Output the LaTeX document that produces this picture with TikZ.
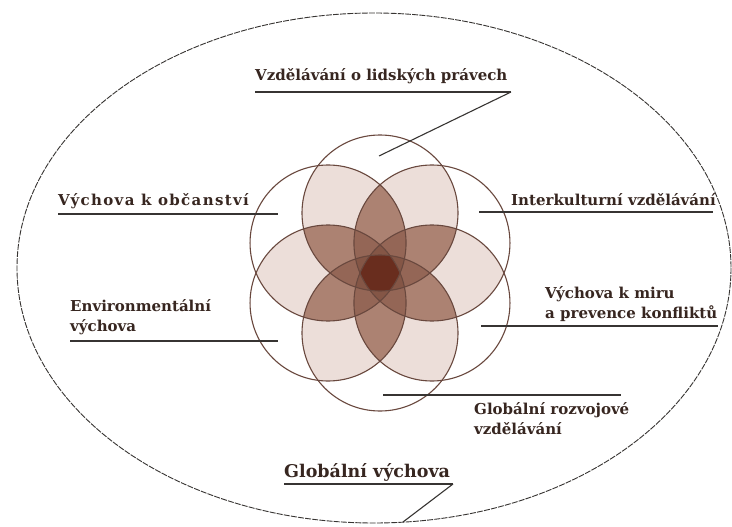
\documentclass[tikz,border=0pt]{standalone}
\usepackage{fontspec}
\setmainfont{DejaVu Serif}
\usetikzlibrary{calc}
\definecolor{mytext}{RGB}{55,38,32}
\definecolor{myline}{RGB}{55,52,50}
\definecolor{myring}{RGB}{105,72,62}
\definecolor{lvtwo}{RGB}{236,222,217}
\definecolor{lvthree}{RGB}{172,130,114}
\definecolor{lvfour}{RGB}{148,102,86}
\definecolor{lvfive}{RGB}{132,86,70}
\definecolor{lvsix}{RGB}{105,45,30}
\tikzset{
  lbl/.style={font=\fontsize{15}{20}\selectfont\bfseries, text=mytext,
    inner sep=0pt, anchor=base west, align=left},
  biglbl/.style={font=\fontsize{17.5}{22}\selectfont\bfseries, text=mytext,
    inner sep=0pt, anchor=base west},
  uline/.style={draw=myline, line width=1.6pt},
  lead/.style={draw=myline, line width=1.1pt},
  ring/.style={draw=myring, line width=1.1pt},
  outer/.style={draw=myline, line width=0.9pt, dash pattern=on 6pt off 1.2pt}
}
\newcommand{\rr}{78}

\begin{document}
\begin{tikzpicture}[x=1pt, y=-1pt]
  \useasboundingbox (0,0) rectangle (732,527);
  \fill[white] (0,0) rectangle (732,527);

  % outer ellipse
  \draw[outer] (374,268) ellipse [x radius=357, y radius=255];

  % circle centres
  \coordinate (O) at (380,273);
  \foreach \i in {0,...,5}{
    \coordinate (c\i) at ($(O)+(90+60*\i:60)$);
  }

  % overlaps of two circles
  \foreach \a in {0,...,5}{\foreach \b in {0,...,5}{\ifnum\a<\b
    \begin{scope}
      \clip (c\a) circle[radius=\rr];
      \fill[lvtwo] (c\b) circle[radius=\rr];
    \end{scope}
  \fi}}
  % overlaps of three circles
  \foreach \a in {0,...,5}{\foreach \b in {0,...,5}{\foreach \c in {0,...,5}{
    \ifnum\a<\b\ifnum\b<\c
    \begin{scope}
      \clip (c\a) circle[radius=\rr];
      \clip (c\b) circle[radius=\rr];
      \fill[lvthree] (c\c) circle[radius=\rr];
    \end{scope}
  \fi\fi}}}
  % overlaps of four circles
  \foreach \a in {0,...,5}{\foreach \b in {0,...,5}{\foreach \c in {0,...,5}{\foreach \d in {0,...,5}{
    \ifnum\a<\b\ifnum\b<\c\ifnum\c<\d
    \begin{scope}
      \clip (c\a) circle[radius=\rr];
      \clip (c\b) circle[radius=\rr];
      \clip (c\c) circle[radius=\rr];
      \fill[lvfour] (c\d) circle[radius=\rr];
    \end{scope}
  \fi\fi\fi}}}}
  % overlaps of five circles
  \foreach \o in {0,...,5}{
    \pgfmathtruncatemacro\pa{mod(\o+1,6)}
    \pgfmathtruncatemacro\pb{mod(\o+2,6)}
    \pgfmathtruncatemacro\pc{mod(\o+3,6)}
    \pgfmathtruncatemacro\pd{mod(\o+4,6)}
    \pgfmathtruncatemacro\pe{mod(\o+5,6)}
    \begin{scope}
      \clip (c\pa) circle[radius=\rr];
      \clip (c\pb) circle[radius=\rr];
      \clip (c\pc) circle[radius=\rr];
      \clip (c\pd) circle[radius=\rr];
      \fill[lvfive] (c\pe) circle[radius=\rr];
    \end{scope}
  }
  % all six
  \begin{scope}
    \clip (c0) circle[radius=\rr];
    \clip (c1) circle[radius=\rr];
    \clip (c2) circle[radius=\rr];
    \clip (c3) circle[radius=\rr];
    \clip (c4) circle[radius=\rr];
    \fill[lvsix] (c5) circle[radius=\rr];
  \end{scope}
  \foreach \i in {0,...,5}{
    \draw[ring] (c\i) circle[radius=\rr];
  }

  % labels
  \node[lbl] (hr) at (255,81) {Vzdělávání o lidských právech};
  \node[lbl] (obc) at (58,205) {\addfontfeatures{LetterSpace=9}Výchova k občanství};
  \node[lbl] (ik) at (511,205) {Interkulturní vzdělávání};
  \node[lbl] (env) at (70,331) {Environmentální\\výchova};
  \node[lbl] (mir) at (545,318) {Výchova k miru\\a prevence konfliktů};
  \node[lbl] (grv) at (474,434) {Globální rozvojové\\vzdělávání};
  \node[biglbl] (gv) at (284,477) {Globální výchova};

  % underlines and leaders
  \coordinate (hrA) at (255,92);
  \coordinate (hrB) at (511,92);
  \coordinate (hrC) at (379,156);
  \draw[uline] (hrA) -- (hrB);
  \draw[lead] (hrB) -- (hrC);
  \coordinate (obcA) at (58,214);
  \coordinate (obcB) at (278,214);
  \draw[uline] (obcA) -- (obcB);
  \coordinate (ikA) at (479,212);
  \coordinate (ikB) at (713,212);
  \draw[uline] (ikA) -- (ikB);
  \coordinate (envA) at (70,341);
  \coordinate (envB) at (278,341);
  \draw[uline] (envA) -- (envB);
  \coordinate (mirA) at (481,326);
  \coordinate (mirB) at (718,326);
  \draw[uline] (mirA) -- (mirB);
  \coordinate (grvA) at (383,395);
  \coordinate (grvB) at (621,395);
  \draw[uline] (grvA) -- (grvB);
  \coordinate (gvA) at (284,484);
  \coordinate (gvB) at (453,484);
  \coordinate (gvC) at (403,522);
  \draw[uline] (gvA) -- (gvB);
  \draw[lead] (gvB) -- (gvC);
\end{tikzpicture}
\end{document}
